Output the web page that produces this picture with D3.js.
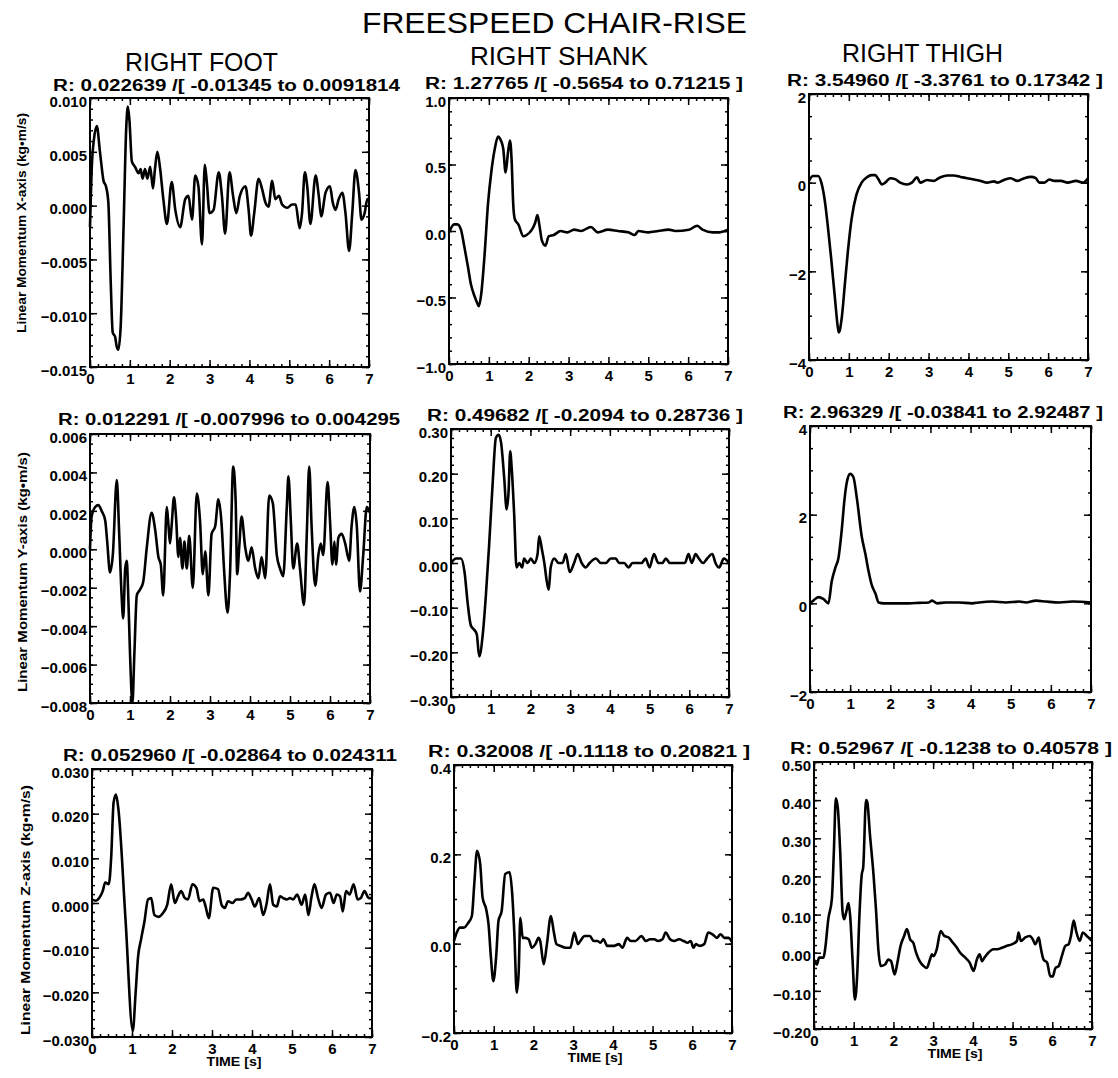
<!DOCTYPE html>
<html>
<head>
<meta charset="utf-8">
<script src="https://d3js.org/d3.v7.min.js"></script>
<style>
  body { margin: 0; background: #fff; }
  text { font-family: "Liberation Sans", Arial, sans-serif; fill: #000; }
</style>
</head>
<body>
<div id="chart"></div>
<script>

// Time axis, shared by every panel
var timeTicks = [0, 1, 2, 3, 4, 5, 6, 7];

// Linear momentum, X axis  [time (s), value (kg*m/s)]
var footX = [[0,-0.0020],[0.05,0.0040],[0.10,0.0062],[0.17,0.0074],[0.25,0.0050],[0.34,0.0023],[0.40,0.0018],[0.46,0.0003],[0.52,-0.0071],[0.57,-0.0118],[0.63,-0.0122],[0.67,-0.0131],[0.71,-0.0134],[0.77,-0.0112],[0.84,-0.0023],[0.91,0.0073],[0.95,0.0092],[0.99,0.0079],[1.05,0.0041],[1.13,0.0036],[1.22,0.0030],[1.27,0.0034],[1.32,0.0025],[1.38,0.0034],[1.44,0.0025],[1.51,0.0036],[1.58,0.0016],[1.63,0.0034],[1.69,0.0050],[1.76,0.0034],[1.84,0.0006],[1.93,-0.0017],[2.05,0.0022],[2.14,-0.0004],[2.26,-0.0020],[2.39,0.0006],[2.47,0.0009],[2.56,-0.0013],[2.64,0.0028],[2.72,0.0018],[2.81,-0.0036],[2.88,0.0038],[2.93,0.0022],[3.00,-0.0007],[3.10,-0.0004],[3.23,0.0031],[3.31,0.0009],[3.39,-0.0026],[3.50,0.0031],[3.59,0.0009],[3.67,-0.0007],[3.76,0.0009],[3.90,0.0018],[3.98,-0.0004],[4.04,-0.0028],[4.12,-0.0007],[4.23,0.0025],[4.32,0.0015],[4.40,0.0003],[4.48,-0.0001],[4.57,0.0023],[4.65,0.0006],[4.74,0.0009],[4.82,0.0001],[4.95,-0.0002],[5.07,0.0001],[5.16,0.0001],[5.26,-0.0021],[5.32,-0.0007],[5.39,0.0031],[5.45,0.0018],[5.53,-0.0017],[5.66,0.0028],[5.74,0.0009],[5.80,-0.0010],[5.91,0.0012],[6.02,0.0018],[6.09,0.0003],[6.16,-0.0004],[6.24,0.0006],[6.33,0.0012],[6.41,-0.0007],[6.50,-0.0042],[6.58,-0.0007],[6.66,0.0033],[6.75,0.0012],[6.81,-0.0013],[6.89,-0.0007],[6.96,0.0006],[7.00,0.0006]];
var shankX = [[0,-0.01],[0.13,0.05],[0.21,0.05],[0.30,0.01],[0.38,-0.11],[0.47,-0.26],[0.55,-0.40],[0.64,-0.49],[0.72,-0.55],[0.75,-0.565],[0.81,-0.47],[0.89,-0.19],[0.98,0.21],[1.06,0.44],[1.15,0.62],[1.23,0.71],[1.27,0.70],[1.36,0.62],[1.42,0.44],[1.48,0.59],[1.53,0.68],[1.57,0.54],[1.61,0.21],[1.65,0.09],[1.74,0.05],[1.87,-0.04],[1.95,-0.03],[2.08,0.01],[2.16,0.06],[2.22,0.12],[2.27,0.04],[2.33,-0.07],[2.42,-0.11],[2.50,-0.04],[2.63,-0.03],[2.80,0.00],[2.97,-0.01],[3.14,0.01],[3.31,0.00],[3.56,0.03],[3.73,-0.01],[3.99,0.01],[4.24,0.00],[4.50,-0.01],[4.66,-0.03],[4.75,0.00],[5.00,-0.01],[5.25,0.00],[5.51,0.01],[5.68,0.00],[6.02,0.01],[6.23,0.04],[6.36,0.01],[6.62,-0.01],[6.79,-0.01],[7.00,0.01]];
var thighX = [[0,0.04],[0.10,0.15],[0.23,0.15],[0.31,0.00],[0.40,-0.43],[0.48,-1.05],[0.56,-1.74],[0.65,-2.60],[0.73,-3.30],[0.75,-3.376],[0.82,-3.06],[0.90,-2.29],[0.98,-1.51],[1.07,-0.81],[1.19,-0.27],[1.32,0.00],[1.45,0.12],[1.57,0.17],[1.66,0.17],[1.74,0.08],[1.83,-0.04],[1.91,0.00],[2.04,0.10],[2.16,0.08],[2.29,0.00],[2.46,-0.04],[2.58,0.00],[2.71,0.12],[2.79,0.00],[2.96,0.06],[3.13,0.04],[3.25,0.10],[3.47,0.16],[3.63,0.16],[3.80,0.13],[3.97,0.10],[4.14,0.07],[4.31,0.04],[4.47,0.00],[4.64,0.03],[4.73,0.00],[4.89,0.06],[5.06,0.10],[5.23,0.04],[5.40,0.10],[5.57,0.13],[5.69,0.10],[5.78,0.00],[5.90,0.00],[6.03,0.07],[6.16,0.04],[6.32,0.04],[6.49,0.00],[6.70,0.04],[6.87,0.00],[7.00,0.10]];

// Linear momentum, Y axis
var footY = [[0,0],[0.04,0.0017],[0.13,0.0022],[0.21,0.0023],[0.29,0.0020],[0.38,0.0015],[0.43,0.0004],[0.50,-0.0012],[0.57,-0.0003],[0.67,0.0036],[0.73,0.0008],[0.79,-0.0024],[0.83,-0.0036],[0.88,-0.0010],[0.92,-0.0006],[0.95,-0.0020],[1.00,-0.0054],[1.06,-0.0080],[1.11,-0.0054],[1.17,-0.0024],[1.25,-0.0021],[1.33,-0.0017],[1.42,0.0001],[1.54,0.0019],[1.63,0.0010],[1.71,-0.0004],[1.77,-0.0008],[1.83,-0.0024],[1.92,0.0022],[1.96,0.0013],[2.00,0.0003],[2.04,0.0012],[2.10,0.0027],[2.15,0.0017],[2.21,-0.0004],[2.25,0.0006],[2.31,-0.0010],[2.36,0.0004],[2.42,-0.0010],[2.48,0.0007],[2.57,-0.0020],[2.67,0.0029],[2.75,0.0015],[2.82,-0.0013],[2.88,-0.0001],[2.96,-0.0024],[3.04,0.0008],[3.13,0.0012],[3.21,0.0026],[3.29,0.0013],[3.35,-0.0010],[3.44,-0.0033],[3.50,-0.0013],[3.58,0.0043],[3.64,0.0026],[3.68,-0.0013],[3.73,0.0001],[3.79,0.0017],[3.88,0.0001],[3.96,-0.0006],[4.04,0.0001],[4.13,-0.0010],[4.21,-0.0015],[4.29,-0.0004],[4.38,-0.0015],[4.48,0.0028],[4.57,0.0024],[4.67,-0.0003],[4.75,-0.0010],[4.83,-0.0014],[4.92,0.0022],[4.96,0.0038],[5.02,0.0015],[5.08,-0.0010],[5.18,0.0003],[5.25,-0.0010],[5.35,-0.0029],[5.42,0.0008],[5.48,0.0043],[5.54,0.0012],[5.63,-0.0019],[5.71,-0.0003],[5.77,0.0003],[5.83,-0.0003],[5.94,0.0035],[6.00,0.0015],[6.06,-0.0008],[6.11,0.0004],[6.15,-0.0008],[6.21,0.0006],[6.29,0.0008],[6.38,0.0003],[6.48,-0.0006],[6.54,0.0012],[6.61,0.0022],[6.67,0.0012],[6.75,-0.0022],[6.83,-0.0003],[6.92,0.0022],[7.00,0.0019]];
var shankY = [[0,0.00],[0.13,0.01],[0.25,0.01],[0.34,-0.02],[0.42,-0.09],[0.50,-0.14],[0.59,-0.15],[0.65,-0.16],[0.71,-0.209],[0.80,-0.16],[0.88,-0.07],[0.96,0.04],[1.05,0.18],[1.13,0.28],[1.20,0.287],[1.26,0.27],[1.34,0.19],[1.40,0.12],[1.45,0.16],[1.49,0.25],[1.53,0.21],[1.59,0.11],[1.65,-0.01],[1.72,0.00],[1.79,-0.01],[1.84,0.01],[1.93,0.00],[2.01,0.01],[2.10,0.00],[2.18,0.02],[2.22,0.06],[2.29,0.03],[2.35,0.00],[2.41,-0.04],[2.46,-0.06],[2.51,-0.01],[2.60,0.01],[2.71,0.00],[2.81,0.00],[2.89,0.02],[2.99,-0.02],[3.10,0.00],[3.19,0.02],[3.29,0.00],[3.39,-0.01],[3.49,0.00],[3.65,0.01],[3.77,0.00],[3.90,0.00],[4.02,0.01],[4.15,0.01],[4.23,0.00],[4.36,0.00],[4.47,-0.01],[4.57,0.00],[4.69,0.00],[4.80,0.00],[4.90,0.01],[5.00,-0.01],[5.11,0.02],[5.22,0.00],[5.32,0.00],[5.41,0.01],[5.51,0.00],[5.66,0.00],[5.78,0.00],[5.89,0.00],[5.98,0.02],[6.06,0.00],[6.16,0.02],[6.24,0.01],[6.35,0.00],[6.45,0.01],[6.58,0.02],[6.66,0.00],[6.75,-0.01],[6.87,0.01],[7.00,0.00]];
var thighY = [[0,0.00],[0.08,0.06],[0.21,0.14],[0.33,0.10],[0.46,0.00],[0.54,0.49],[0.63,0.80],[0.71,1.03],[0.79,1.65],[0.86,2.35],[0.92,2.74],[1.00,2.92],[1.08,2.85],[1.17,2.35],[1.29,1.50],[1.38,1.11],[1.46,0.72],[1.54,0.41],[1.63,0.22],[1.71,0.02],[1.83,0.00],[2.04,0.00],[2.21,0.00],[2.46,0.00],[2.71,0.01],[2.96,0.02],[3.04,0.06],[3.17,0.00],[3.38,0.02],[3.71,0.02],[4.04,0.00],[4.21,0.02],[4.54,0.04],[4.88,0.02],[5.21,0.04],[5.38,0.02],[5.63,0.06],[5.88,0.04],[6.21,0.02],[6.54,0.04],[7.00,0.02]];

// Linear momentum, Z axis
var footZ = [[0,0.0008],[0.10,0.0005],[0.18,0.0011],[0.27,0.0027],[0.33,0.0046],[0.42,0.0042],[0.48,0.0103],[0.54,0.0225],[0.60,0.0243],[0.66,0.0210],[0.84,-0.0040],[1.02,-0.0286],[1.09,-0.0202],[1.15,-0.0122],[1.23,-0.0080],[1.31,-0.0042],[1.40,0.0008],[1.48,0.0011],[1.56,-0.0027],[1.67,-0.0031],[1.77,-0.0023],[1.88,-0.0004],[1.98,0.0042],[2.07,0.0000],[2.15,0.0015],[2.23,0.0027],[2.32,0.0011],[2.40,0.0008],[2.51,0.0042],[2.61,0.0034],[2.69,0.0004],[2.78,0.0008],[2.84,-0.0008],[2.92,-0.0034],[3.03,0.0034],[3.15,0.0031],[3.24,-0.0004],[3.32,-0.0011],[3.40,0.0004],[3.51,0.0000],[3.61,0.0008],[3.71,0.0008],[3.82,0.0011],[3.90,0.0023],[3.99,0.0008],[4.07,-0.0008],[4.18,0.0011],[4.28,-0.0027],[4.36,-0.0004],[4.45,0.0042],[4.53,-0.0004],[4.62,-0.0008],[4.70,0.0015],[4.78,0.0011],[4.87,0.0008],[4.95,0.0011],[5.03,0.0008],[5.13,0.0019],[5.24,-0.0004],[5.33,0.0019],[5.41,-0.0027],[5.49,0.0015],[5.56,0.0042],[5.66,0.0008],[5.74,-0.0011],[5.85,0.0019],[5.95,0.0023],[6.04,0.0000],[6.12,0.0019],[6.20,0.0015],[6.27,-0.0019],[6.35,0.0027],[6.44,0.0019],[6.54,0.0042],[6.64,0.0008],[6.72,0.0011],[6.81,0.0027],[6.92,0.0011],[7.00,0.0011]];
var shankZ = [[0,0.006],[0.07,0.025],[0.15,0.036],[0.25,0.036],[0.36,0.047],[0.45,0.062],[0.51,0.133],[0.58,0.208],[0.66,0.178],[0.72,0.103],[0.81,0.077],[0.87,0.043],[0.93,-0.031],[0.99,-0.084],[1.06,-0.031],[1.12,0.051],[1.20,0.073],[1.29,0.156],[1.40,0.160],[1.46,0.118],[1.52,0.021],[1.58,-0.110],[1.63,-0.061],[1.67,0.058],[1.73,0.013],[1.79,0.013],[1.88,0.010],[1.96,-0.009],[2.05,-0.001],[2.13,0.013],[2.17,0.006],[2.26,-0.046],[2.34,-0.001],[2.44,0.062],[2.51,0.028],[2.58,-0.001],[2.68,-0.005],[2.81,-0.009],[2.93,-0.009],[3.03,0.025],[3.12,-0.001],[3.18,0.006],[3.29,0.017],[3.42,0.017],[3.52,0.006],[3.61,0.006],[3.69,0.002],[3.76,0.010],[3.86,-0.005],[4.03,-0.005],[4.15,-0.001],[4.24,-0.009],[4.36,0.013],[4.45,0.006],[4.57,0.006],[4.72,0.017],[4.83,0.006],[4.94,0.010],[5.04,0.010],[5.14,0.006],[5.25,0.010],[5.33,0.025],[5.44,0.010],[5.54,0.006],[5.67,0.010],[5.78,0.006],[5.88,0.002],[5.96,0.006],[6.03,-0.009],[6.09,-0.001],[6.18,-0.005],[6.30,-0.001],[6.40,0.025],[6.51,0.021],[6.62,0.013],[6.71,0.021],[6.81,0.013],[6.91,0.013],[7.00,0.004]];
var thighZ = [[0,-0.018],[0.07,-0.031],[0.13,-0.013],[0.24,-0.013],[0.28,0.009],[0.36,0.088],[0.45,0.141],[0.50,0.264],[0.55,0.405],[0.60,0.379],[0.66,0.264],[0.72,0.106],[0.76,0.088],[0.81,0.106],[0.87,0.130],[0.91,0.097],[0.97,-0.018],[1.03,-0.123],[1.09,-0.053],[1.14,0.088],[1.20,0.203],[1.24,0.225],[1.31,0.400],[1.34,0.396],[1.41,0.308],[1.50,0.203],[1.56,0.115],[1.62,0.009],[1.68,-0.035],[1.79,-0.031],[1.87,-0.018],[1.94,-0.022],[2.03,-0.057],[2.10,-0.026],[2.18,0.018],[2.27,0.044],[2.34,0.062],[2.42,0.035],[2.50,0.026],[2.57,0.000],[2.66,-0.022],[2.76,-0.035],[2.84,-0.040],[2.92,-0.018],[2.97,-0.004],[3.01,-0.009],[3.09,0.009],[3.19,0.057],[3.28,0.044],[3.39,0.040],[3.50,0.026],[3.60,0.013],[3.68,0.000],[3.81,-0.013],[3.92,-0.026],[4.02,-0.048],[4.10,-0.018],[4.17,-0.004],[4.23,-0.022],[4.29,-0.013],[4.39,0.000],[4.52,0.009],[4.62,0.009],[4.73,0.013],[4.86,0.018],[4.98,0.022],[5.11,0.031],[5.15,0.053],[5.21,0.031],[5.32,0.040],[5.43,0.044],[5.51,0.035],[5.57,0.022],[5.66,0.040],[5.70,0.018],[5.78,-0.018],[5.87,-0.026],[5.95,-0.062],[6.01,-0.062],[6.08,-0.040],[6.16,-0.035],[6.24,-0.009],[6.33,0.018],[6.41,0.022],[6.47,0.044],[6.54,0.084],[6.60,0.057],[6.69,0.031],[6.77,0.053],[6.87,0.044],[7.00,0.031]];

// Y tick values of each panel
var footXTicks  = [-0.015, -0.010, -0.005, 0, 0.005, 0.010];
var shankXTicks = [-1.0, -0.5, 0, 0.5, 1.0];
var thighXTicks = [-4, -2, 0, 2];
var footYTicks  = [-0.008, -0.006, -0.004, -0.002, 0, 0.002, 0.004, 0.006];
var shankYTicks = [-0.30, -0.20, -0.10, 0, 0.10, 0.20, 0.30];
var thighYTicks = [-2, 0, 2, 4];
var footZTicks  = [-0.030, -0.020, -0.010, 0, 0.010, 0.020, 0.030];
var shankZTicks = [-0.2, 0, 0.2, 0.4];
var thighZTicks = [-0.20, -0.10, 0, 0.10, 0.20, 0.30, 0.40, 0.50];

// Range text printed above each panel
var rangeLabels = [
  "R: 0.022639 /[ -0.01345 to 0.0091814",
  "R: 1.27765 /[ -0.5654 to 0.71215 ]",
  "R: 3.54960 /[ -3.3761 to 0.17342 ]",
  "R: 0.012291 /[ -0.007996 to 0.004295",
  "R: 0.49682 /[ -0.2094 to 0.28736 ]",
  "R: 2.96329 /[ -0.03841 to 2.92487 ]",
  "R: 0.052960 /[ -0.02864 to 0.024311",
  "R: 0.32008 /[ -0.1118 to 0.20821 ]",
  "R: 0.52967 /[ -0.1238 to 0.40578 ]"
];

var segmentTitles = ["RIGHT FOOT", "RIGHT SHANK", "RIGHT THIGH"];
var rowTitles = [
  "Linear Momentum X-axis (kg\u2022m/s)",
  "Linear Momentum Y-axis (kg\u2022m/s)",
  "Linear Momentum Z-axis (kg\u2022m/s)"
];

// Panel setup: [left, top, right, bottom] of the frame, and [x, baseline, width] of the range text
var panels = [
  { data: footX,  ticks: footXTicks,  minor: 0.001,  fmt: ".3f", box: [90, 98, 369, 367],   r: [53, 91, 347] },
  { data: shankX, ticks: shankXTicks, minor: 0.1,    fmt: ".1f", box: [449, 98, 728, 364],  r: [425, 89, 318] },
  { data: thighX, ticks: thighXTicks, minor: 0.5,    fmt: "d",   box: [809, 94, 1088, 360], r: [787, 86, 316] },
  { data: footY,  ticks: footYTicks,  minor: 0.0005, fmt: ".3f", box: [90, 434, 370, 703],  r: [58, 425, 342] },
  { data: shankY, ticks: shankYTicks, minor: 0.02,   fmt: ".2f", box: [451, 429, 729, 697], r: [427, 421, 316] },
  { data: thighY, ticks: thighYTicks, minor: 0.5,    fmt: "d",   box: [810, 426, 1091, 692], r: [783, 418, 320] },
  { data: footZ,  ticks: footZTicks,  minor: 0.002,  fmt: ".3f", box: [92, 769, 372, 1037], r: [63, 761, 334] },
  { data: shankZ, ticks: shankZTicks, minor: 0.05,   fmt: ".1f", box: [454, 765, 732, 1033], r: [428, 757, 322] },
  { data: thighZ, ticks: thighZTicks, minor: 0.02,   fmt: ".2f", box: [814, 762, 1092, 1029], r: [790, 754, 322] }
];

var svg = d3.select("#chart")
  .append("svg")
  .attr("width", 1118)
  .attr("height", 1078)
  .style("background", "#fff");

function styleAxis(g, fontSize) {
  g.select(".domain").remove();
  g.attr("font-family", "Liberation Sans, Arial, sans-serif")
    .attr("font-size", fontSize)
    .attr("font-weight", "bold");
  g.selectAll("line").style("stroke", "#000").style("stroke-width", "1.5px");
  g.selectAll("text").style("fill", "#000");
}

function drawPanel(p, i) {
  var b = p.box;
  var x = d3.scaleLinear().domain([0, 7]).range([b[0], b[2]]);
  var y = d3.scaleLinear().domain([p.ticks[0], p.ticks[p.ticks.length - 1]]).range([b[3], b[1]]);
  var g = svg.append("g").attr("class", "panel");

  var xMinor = d3.range(0, 7.0001, 0.2);
  var yMinor = d3.range(y.domain()[0], y.domain()[1] + p.minor / 2, p.minor);

  // Minor ticks on all four sides
  g.append("g").attr("transform", "translate(0," + b[3] + ")")
    .call(d3.axisBottom(x).tickValues(xMinor).tickSize(-3).tickFormat(""))
    .call(styleAxis, 10);
  g.append("g").attr("transform", "translate(0," + b[1] + ")")
    .call(d3.axisTop(x).tickValues(xMinor).tickSize(-3).tickFormat(""))
    .call(styleAxis, 10);
  g.append("g").attr("transform", "translate(" + b[0] + ",0)")
    .call(d3.axisLeft(y).tickValues(yMinor).tickSize(-3).tickFormat(""))
    .call(styleAxis, 10);
  g.append("g").attr("transform", "translate(" + b[2] + ",0)")
    .call(d3.axisRight(y).tickValues(yMinor).tickSize(-3).tickFormat(""))
    .call(styleAxis, 10);

  // Major ticks and labels
  g.append("g").attr("transform", "translate(0," + b[3] + ")")
    .call(d3.axisBottom(x).tickValues(timeTicks).tickSize(-7).tickPadding(6).tickFormat(d3.format("d")))
    .call(styleAxis, 15);
  g.append("g").attr("transform", "translate(0," + b[1] + ")")
    .call(d3.axisTop(x).tickValues(timeTicks).tickSize(-7).tickFormat(""))
    .call(styleAxis, 15);
  var yAxis = g.append("g").attr("transform", "translate(" + b[0] + ",0)")
    .call(d3.axisLeft(y).tickValues(p.ticks).tickSize(-7).tickPadding(3).tickFormat(d3.format(p.fmt)))
    .call(styleAxis, 15);
  // nudge the labels down a little, as in the plotter output
  yAxis.selectAll("text").attr("dy", "0.55em");
  g.append("g").attr("transform", "translate(" + b[2] + ",0)")
    .call(d3.axisRight(y).tickValues(p.ticks).tickSize(-7).tickFormat(""))
    .call(styleAxis, 15);

  // Frame
  g.append("rect")
    .attr("x", b[0])
    .attr("y", b[1])
    .attr("width", b[2] - b[0])
    .attr("height", b[3] - b[1])
    .style("fill", "none")
    .style("stroke", "#000")
    .style("stroke-width", "2px");

  // Momentum curve
  var line = d3.line()
    .x(function(d) { return x(d[0]); })
    .y(function(d) { return y(d[1]); })
    .curve(d3.curveMonotoneX);
  g.append("path")
    .datum(p.data)
    .attr("d", line)
    .style("fill", "none")
    .style("stroke", "#000")
    .style("stroke-width", "2.6px")
    .style("stroke-linejoin", "round");

  // Range text
  g.append("text")
    .attr("x", p.r[0])
    .attr("y", p.r[1])
    .attr("font-size", 16)
    .attr("font-weight", "bold")
    .attr("textLength", p.r[2])
    .attr("lengthAdjust", "spacingAndGlyphs")
    .text(rangeLabels[i]);

  // Time label under the bottom row
  if (i >= 6) {
    g.append("text")
      .attr("x", (b[0] + b[2]) / 2 + 2)
      .attr("y", b[3] + 29)
      .attr("text-anchor", "middle")
      .attr("font-size", 12)
      .attr("font-weight", "bold")
      .attr("textLength", 55)
      .attr("lengthAdjust", "spacingAndGlyphs")
      .text("TIME [s]");
  }
}

panels.forEach(drawPanel);

// Main title
svg.append("text")
  .attr("x", 362)
  .attr("y", 33)
  .attr("font-size", 30)
  .attr("textLength", 385)
  .attr("lengthAdjust", "spacingAndGlyphs")
  .text("FREESPEED CHAIR-RISE");

// Column titles
var colTitlePos = [[125, 71, 153], [470, 65, 178], [842, 62, 161]];
svg.selectAll("text.segment")
  .data(segmentTitles)
  .enter()
  .append("text")
  .attr("class", "segment")
  .attr("x", function(d, i) { return colTitlePos[i][0]; })
  .attr("y", function(d, i) { return colTitlePos[i][1]; })
  .attr("font-size", 25)
  .attr("textLength", function(d, i) { return colTitlePos[i][2]; })
  .attr("lengthAdjust", "spacingAndGlyphs")
  .text(function(d) { return d; });

// Row (y axis) titles
var rowTitlePos = [[26, 223, 220], [27, 572, 240], [30, 910, 250]];
svg.selectAll("text.rowtitle")
  .data(rowTitles)
  .enter()
  .append("text")
  .attr("class", "rowtitle")
  .attr("transform", function(d, i) { return "translate(" + rowTitlePos[i][0] + "," + rowTitlePos[i][1] + ") rotate(-90)"; })
  .attr("text-anchor", "middle")
  .attr("font-size", 12)
  .attr("font-weight", "bold")
  .attr("textLength", function(d, i) { return rowTitlePos[i][2]; })
  .attr("lengthAdjust", "spacingAndGlyphs")
  .text(function(d) { return d; });

</script>
</body>
</html>
